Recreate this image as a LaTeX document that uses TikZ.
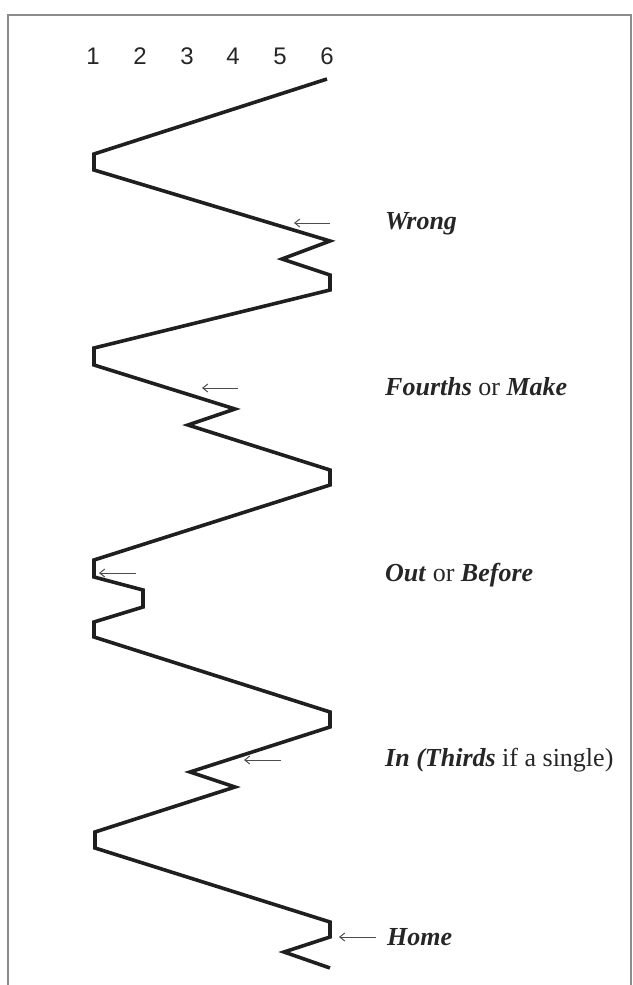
\documentclass[tikz,border=0pt]{standalone}
\usepackage{fontspec}
\setmainfont{Liberation Serif}
\newfontfamily\numfont{Liberation Sans}
\usetikzlibrary{arrows.meta}
\begin{document}
\begin{tikzpicture}[x=1pt,y=-1pt,
  zig/.style={line width=3.6pt,line join=miter,color=black!88},
  pointer/.style={line width=1pt,color=black!70,-{Straight Barb[length=5pt,width=8pt]}},
  lbl/.style={anchor=west,inner sep=0pt,font=\fontsize{26}{28}\selectfont,text=black!85},
  num/.style={inner sep=0pt,font=\numfont\fontsize{24}{26}\selectfont,text=black!85},
  frame/.style={line width=1.3pt,color=black!45}]
\useasboundingbox (0,0) rectangle (632,985);
\draw[frame] (8,990) -- (8,15) -- (631,15) -- (631,990);
% column numbers
\foreach \i/\x in {1/93,2/140,3/187,4/233,5/280,6/327}
  \node[num] (n\i) at (\x,56) {\i};
% the path
\coordinate (p0) at (327,79);
\draw[zig] (p0) -- (94,154) -- (94,170) -- (330,241) -- (282,259) -- (330,275) -- (330,290)
  -- (94,348) -- (94,365) -- (235,409) -- (188,425) -- (330,470) -- (330,485)
  -- (94,560) -- (94,577) -- (143,590) -- (143,607) -- (94,622) -- (94,637)
  -- (330,712) -- (330,727) -- (190,772) -- (235,787) -- (95,832) -- (95,848)
  -- (330,922) -- (330,937) -- (284,952) -- (330,968);
% labels
\node[lbl] (wrong) at (385,224) {\textbf{\textit{Wrong}}};
\node[lbl] (fourths) at (385,387) {\textbf{\textit{Fourths}} or \textbf{\textit{Make}}};
\node[lbl] (out) at (385,575) {\textbf{\textit{Out}} or \textbf{\textit{Before}}};
\node[lbl] (in) at (385,760) {\textbf{\textit{In (Thirds}} if a single)};
\node[lbl] (home) at (387,937) {\textbf{\textit{Home}}};
% arrows
\coordinate (a1s) at (330,223); \coordinate (a1e) at (294,223);
\coordinate (a2s) at (238,388); \coordinate (a2e) at (202,388);
\coordinate (a3s) at (136,573); \coordinate (a3e) at (99,573);
\coordinate (a4s) at (281,760); \coordinate (a4e) at (244,760);
\coordinate (a5s) at (376,937); \coordinate (a5e) at (339,937);
\draw[pointer] (a1s) -- (a1e);
\draw[pointer] (a2s) -- (a2e);
\draw[pointer] (a3s) -- (a3e);
\draw[pointer] (a4s) -- (a4e);
\draw[pointer] (a5s) -- (a5e);
\end{tikzpicture}
\end{document}
